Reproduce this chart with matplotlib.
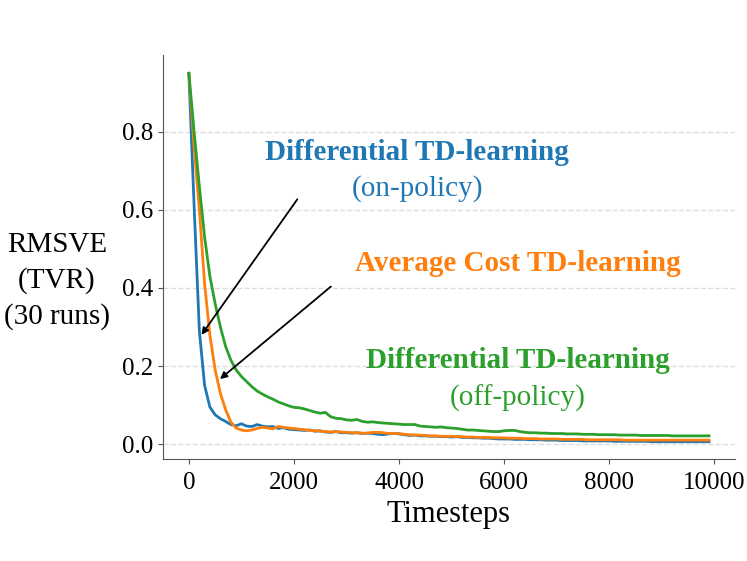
import numpy as np
import matplotlib
matplotlib.use('Agg')
import matplotlib.pyplot as plt

plt.rcParams['font.family'] = ['Liberation Serif', 'DejaVu Serif']

# timesteps (every 100 steps)
timesteps = np.arange(0, 10000, 100)

diff_on = [0.950, 0.610, 0.290, 0.150, 0.095, 0.075, 0.065, 0.058, 0.050, 0.047,
           0.052, 0.046, 0.045, 0.050, 0.046, 0.044, 0.045, 0.040, 0.042, 0.038,
           0.037, 0.036, 0.035, 0.036, 0.033, 0.034, 0.031, 0.030, 0.032, 0.029,
           0.029, 0.028, 0.029, 0.027, 0.028, 0.027, 0.025, 0.024, 0.026, 0.027,
           0.026, 0.024, 0.022, 0.023, 0.021, 0.021, 0.020, 0.020, 0.019, 0.019,
           0.018, 0.019, 0.017, 0.017, 0.016, 0.016, 0.015, 0.015, 0.014, 0.013,
           0.013, 0.013, 0.012, 0.012, 0.012, 0.011, 0.011, 0.011, 0.010, 0.010,
           0.010, 0.009, 0.009, 0.009, 0.009, 0.008, 0.008, 0.008, 0.008, 0.008,
           0.008, 0.007, 0.007, 0.007, 0.007, 0.007, 0.007, 0.007, 0.006, 0.006,
           0.006, 0.006, 0.006, 0.006, 0.006, 0.006, 0.006, 0.006, 0.006, 0.006]

avg_cost = [0.950, 0.760, 0.600, 0.410, 0.280, 0.190, 0.130, 0.088, 0.056, 0.041,
            0.036, 0.034, 0.036, 0.040, 0.043, 0.041, 0.039, 0.045, 0.043, 0.041,
            0.040, 0.038, 0.037, 0.035, 0.034, 0.033, 0.032, 0.031, 0.032, 0.031,
            0.030, 0.029, 0.029, 0.028, 0.028, 0.030, 0.030, 0.029, 0.027, 0.027,
            0.027, 0.025, 0.024, 0.023, 0.023, 0.022, 0.021, 0.021, 0.020, 0.020,
            0.020, 0.019, 0.019, 0.018, 0.018, 0.017, 0.017, 0.017, 0.016, 0.016,
            0.016, 0.015, 0.015, 0.015, 0.014, 0.014, 0.014, 0.013, 0.013, 0.013,
            0.013, 0.012, 0.012, 0.012, 0.012, 0.012, 0.011, 0.011, 0.011, 0.011,
            0.011, 0.011, 0.011, 0.010, 0.010, 0.010, 0.010, 0.010, 0.010, 0.010,
            0.010, 0.010, 0.010, 0.010, 0.010, 0.010, 0.010, 0.010, 0.010, 0.010]

diff_off = [0.950, 0.800, 0.660, 0.530, 0.430, 0.360, 0.300, 0.250, 0.215, 0.190,
            0.173, 0.160, 0.147, 0.136, 0.128, 0.121, 0.115, 0.108, 0.103, 0.098,
            0.094, 0.093, 0.090, 0.086, 0.082, 0.079, 0.081, 0.070, 0.066, 0.065,
            0.062, 0.061, 0.063, 0.058, 0.056, 0.057, 0.055, 0.054, 0.053, 0.052,
            0.051, 0.050, 0.050, 0.050, 0.046, 0.045, 0.044, 0.043, 0.044, 0.042,
            0.041, 0.040, 0.038, 0.036, 0.036, 0.035, 0.034, 0.033, 0.032, 0.032,
            0.034, 0.035, 0.035, 0.032, 0.030, 0.029, 0.029, 0.028, 0.028, 0.027,
            0.027, 0.027, 0.026, 0.026, 0.026, 0.025, 0.025, 0.025, 0.024, 0.024,
            0.024, 0.024, 0.023, 0.023, 0.023, 0.023, 0.022, 0.022, 0.022, 0.022,
            0.022, 0.022, 0.021, 0.021, 0.021, 0.021, 0.021, 0.021, 0.021, 0.021]

fig = plt.figure(figsize=(7.47, 5.61), dpi=100)
ax = fig.add_axes([0.218, 0.182, 0.766, 0.720])

ax.plot(timesteps, diff_on, color='tab:blue', lw=2)
ax.plot(timesteps, avg_cost, color='tab:orange', lw=2)
ax.plot(timesteps, diff_off, color='tab:green', lw=2)

ax.set_xlim(-495, 10395)
ax.set_ylim(-0.038, 0.997)
ax.set_yticks([0.0, 0.2, 0.4, 0.6, 0.8])
ax.set_xticks([0, 2000, 4000, 6000, 8000, 10000])
ax.yaxis.grid(True, ls='--', color='#dddddd', lw=1)
ax.set_axisbelow(True)

for s in ['top', 'right']:
    ax.spines[s].set_visible(False)
for s in ['left', 'bottom']:
    ax.spines[s].set_color('#555555')
ax.tick_params(labelsize=18, color='#555555')
ax.tick_params(axis='x', pad=6)

ax.set_xlabel('Timesteps', fontsize=22, labelpad=4)
ax.set_ylabel('RMSVE\n(TVR)\n(30 runs)', fontsize=21, rotation=0,
              ha='center', va='center', linespacing=1.45)
ax.yaxis.set_label_coords(-0.185, 0.44)

ax.text(4343, 0.746, 'Differential TD-learning', color='tab:blue',
        fontsize=21, fontweight='bold', ha='center', va='center')
ax.text(4343, 0.656, '(on-policy)', color='tab:blue',
        fontsize=21, ha='center', va='center')
ax.text(6267, 0.4615, 'Average Cost TD-learning', color='tab:orange',
        fontsize=21, fontweight='bold', ha='center', va='center')
ax.text(6267, 0.215, 'Differential TD-learning', color='tab:green',
        fontsize=21, fontweight='bold', ha='center', va='center')
ax.text(6267, 0.118, '(off-policy)', color='tab:green',
        fontsize=21, ha='center', va='center')

ax.annotate('', xy=(210, 0.274), xytext=(2095, 0.633),
            arrowprops=dict(arrowstyle='-|>', color='black', lw=1.3))
ax.annotate('', xy=(552, 0.162), xytext=(2743, 0.408),
            arrowprops=dict(arrowstyle='-|>', color='black', lw=1.3))

plt.savefig('out.png', dpi=100)
plt.close()
